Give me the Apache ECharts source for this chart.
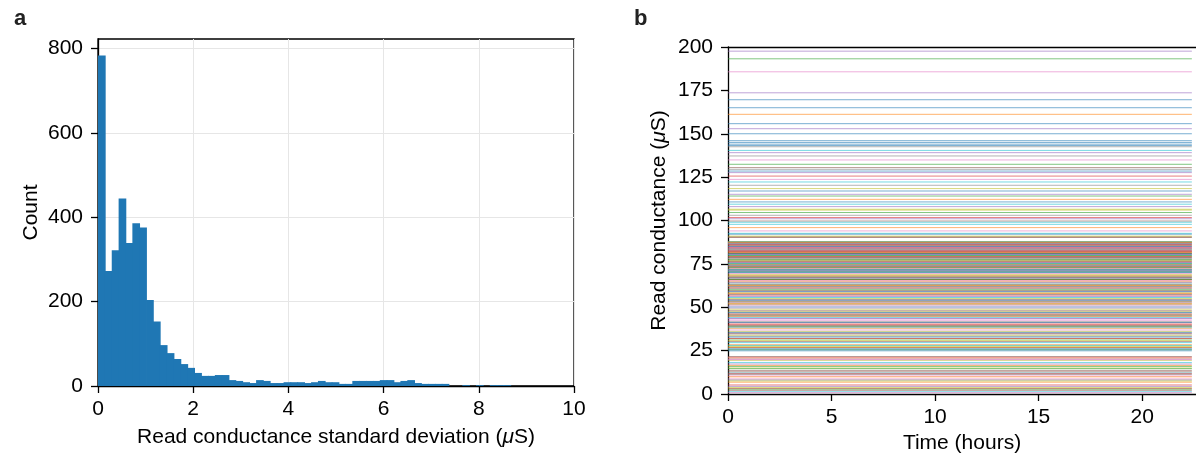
<!DOCTYPE html>
<html>
<head>
<meta charset="utf-8">
<script src="https://cdn.jsdelivr.net/npm/echarts@6/dist/echarts.min.js"></script>
<style>
html,body{margin:0;padding:0;background:#fff;}
#chart{width:1196px;height:459px;}
</style>
</head>
<body>
<div id="chart"></div>
<script>
// ---------- Panel a: histogram of read conductance std dev ----------
const binWidth = 0.1444; // µS per bin (60 bins)
const histCounts = [
  784, 273, 322, 445, 339, 386, 376, 204, 153, 97,
  78, 64, 52, 43, 31, 24, 24, 26, 26, 14,
  12, 9, 7, 14, 12, 7, 7, 9, 9, 9,
  7, 9, 12, 9, 9, 5, 5, 12, 12, 12,
  12, 14, 14, 9, 12, 14, 7, 5, 5, 5,
  5, 0, 0, 2, 0, 2, 0, 2, 2, 2
];
const histXTicks = [0, 2, 4, 6, 8, 10];
const histYTicks = [0, 200, 400, 600, 800];

// ---------- Panel b: read conductance traces over time ----------
const timeHours = [0, 22.4];
// one row per 10 devices (colour cycle order: blue, orange, green, red, purple, brown, pink, gray, olive, cyan)
const levels = [
  169.6, 161.2, 193.2, 125.6, 197.6, 130.5, 185.7, 142.5, 118.4, 140.4,
  165.0, 112.2, 132.4, 101.7, 173.6, 99.7, 134.9, 137.2, 106.5, 122.2,
  155.8, 95.9, 114.1, 84.4, 152.9, 90.2, 123.7, 129.5, 47.4, 109.4,
  150.0, 81.5, 104.6, 71.0, 139.1, 90.6, 94.0, 120.3, 48.9, 97.8,
  146.0, 79.2, 86.9, 40.9, 127.6, 76.4, 21.1, 103.0, 3.8, 63.3,
  145.0, 85.3, 45.5, 5.2, 115.1, 82.2, 58.9, 73.5, 55.1, 12.1,
  144.0, 78.0, 87.7, 74.8, 108.0, 66.3, 84.9, 80.6, 52.2, 99.0,
  143.2, 72.1, 83.6, 82.7, 17.3, 71.8, 77.9, 86.0, 62.4, 92.6,
  128.5, 44.8, 81.0, 76.0, 56.2, 30.2, 69.4, 60.7, 36.1, 86.5,
  117.0, 68.2, 70.3, 86.2, 75.8, 84.0, 43.3, 79.5, 91.0, 71.7,
  110.7, 73.9, 61.8, 53.5, 87.3, 12.8, 74.4, 33.3, 27.5, 80.1,
  92.1, 65.0, 25.5, 82.0, 64.4, 59.6, 8.7, 77.0, 83.1, 50.2,
  74.2, 87.4, 77.5, 67.1, 83.4, 39.5, 57.7, 46.6, 19.4, 29.6,
  35.5, 81.9, 31.7, 57.0, 72.6, 85.5, 10.4, 70.6, 106.0, 38.2,
  24.9, 58.0, 75.1, 79.0, 82.5, 62.9, 26.4, 51.4, 15.0, 78.4,
  66.9, 6.8, 53.0, 73.2, 34.6, 2.1, 86.6, 41.7, 68.8, 18.2,
  80.8, 37.9, 79.8, 61.2, 49.6, 81.2, 65.6, 25.8, 7.5, 87.8,
  59.0, 28.4, 14.6, 32.0, 71.3, 54.4, 42.5, 64.0, 76.8, 44.0,
  54.0, 51.9, 73.0, 46.0, 101.0, 21.6, 84.1, 11.3, 67.7, 1.3,
  41.2, 16.5, 60.1, 3.1, 62.1, 48.0, 36.9, 57.3, 74.9, 28.0,
  70.0, 9.9, 39.0, 26.8, 20.2, 78.7, 50.7, 87.0, 33.9, 55.6,
  85.0, 62.7, 15.9, 40.0, 43.6, 13.6, 0.8, 67.9, 30.8, 75.3,
  47.0, 20.8, 2.8, 65.9, 80.4, 35.0, 19.8, 8.1, 58.3, 26.0,
  32.8, 87.6, 66.0, 11.7, 4.4, 45.0, 52.6, 38.8, 27.0, 70.9
];
const timeXTicks = [0, 5, 10, 15, 20];
const condYTicks = [0, 25, 50, 75, 100, 125, 150, 175, 200];

const palette = ['#1f77b4','#ff7f0e','#2ca02c','#d62728','#9467bd','#8c564b','#e377c2','#7f7f7f','#bcbd22','#17becf'];
const FONT = '"Liberation Sans", Arial, Helvetica, sans-serif';
const FS = 21;

const chart = echarts.init(document.getElementById('chart'), null, {renderer: 'canvas'});

const histData = histCounts.map((c, i) => [i * binWidth, (i + 1) * binWidth, c]);

const axisCommon = {
  axisLine: {show: true, lineStyle: {color: '#000', width: 1.3}},
  axisTick: {show: true, length: 7, lineStyle: {color: '#000', width: 1.3}},
  axisLabel: {color: '#000', fontSize: FS, fontFamily: FONT, margin: 13},
  nameTextStyle: {color: '#000', fontSize: FS, fontFamily: FONT},
  nameLocation: 'middle'
};
const richName = {
  n: {color: '#000', fontSize: FS, fontFamily: FONT},
  i: {color: '#000', fontSize: FS, fontFamily: FONT, fontStyle: 'italic'}
};

const lineSeries = levels.map((v, i) => ({
  type: 'line',
  xAxisIndex: 1,
  yAxisIndex: 1,
  data: timeHours.map(t => [t, v]),
  showSymbol: false,
  symbol: 'none',
  silent: true,
  animation: false,
  lineStyle: {color: palette[i % 10], width: 0.8, opacity: 0.75},
  z: 2
}));

const option = {
  animation: false,
  backgroundColor: '#fff',
  textStyle: {fontFamily: FONT},
  title: [
    {text: 'a', left: 9, top: 3, textStyle: {fontSize: 22, fontWeight: 'bold', color: '#222', fontFamily: FONT}},
    {text: 'b', left: 629, top: 3, textStyle: {fontSize: 22, fontWeight: 'bold', color: '#222', fontFamily: FONT}}
  ],
  grid: [
    {left: 98, right: 622, top: 39, bottom: 73, show: true, borderColor: '#000', borderWidth: 1.3, backgroundColor: 'transparent'},
    {left: 728, right: 0, top: 47, bottom: 65, show: false}
  ],
  xAxis: [
    Object.assign({}, axisCommon, {
      type: 'value', gridIndex: 0, min: 0, max: 10, interval: 2,
      name: '{n|Read conductance standard deviation (}{i|μ}{n|S)}',
      nameGap: 41,
      nameTextStyle: {rich: richName},
      axisLabel: Object.assign({}, axisCommon.axisLabel, {customValues: histXTicks}),
      axisTick: Object.assign({}, axisCommon.axisTick, {customValues: histXTicks}),
      splitLine: {show: true, lineStyle: {color: '#e6e6e6', width: 1}}
    }),
    Object.assign({}, axisCommon, {
      type: 'value', gridIndex: 1, min: 0, max: 22.6, interval: 5,
      name: 'Time (hours)',
      nameGap: 37,
      axisLabel: Object.assign({}, axisCommon.axisLabel, {customValues: timeXTicks}),
      axisTick: Object.assign({}, axisCommon.axisTick, {customValues: timeXTicks}),
      splitLine: {show: false}
    }),
    {
      type: 'value', gridIndex: 1, position: 'top', min: 0, max: 22.6,
      axisLine: {show: true, onZero: false, lineStyle: {color: '#000', width: 1.3}},
      axisTick: {show: false}, axisLabel: {show: false}, splitLine: {show: false}
    }
  ],
  yAxis: [
    Object.assign({}, axisCommon, {
      type: 'value', gridIndex: 0, min: 0, max: 823, interval: 200,
      name: 'Count',
      nameGap: 56,
      axisLabel: Object.assign({}, axisCommon.axisLabel, {customValues: histYTicks, margin: 15}),
      axisTick: Object.assign({}, axisCommon.axisTick, {customValues: histYTicks}),
      splitLine: {show: true, lineStyle: {color: '#e6e6e6', width: 1}}
    }),
    Object.assign({}, axisCommon, {
      type: 'value', gridIndex: 1, min: 0, max: 200, interval: 25,
      name: '{n|Read conductance (}{i|μ}{n|S)}',
      nameGap: 58,
      nameTextStyle: {rich: richName},
      axisLabel: Object.assign({}, axisCommon.axisLabel, {customValues: condYTicks, margin: 15}),
      axisTick: Object.assign({}, axisCommon.axisTick, {customValues: condYTicks}),
      splitLine: {show: false}
    })
  ],
  series: [
    {
      type: 'custom',
      xAxisIndex: 0,
      yAxisIndex: 0,
      data: histData,
      silent: true,
      renderItem: function (params, api) {
        const p0 = api.coord([api.value(0), api.value(2)]);
        const p1 = api.coord([api.value(1), 0]);
        const h = p1[1] - p0[1];
        if (h <= 0) return null;
        return {
          type: 'rect',
          shape: {x: p0[0], y: p0[1], width: p1[0] - p0[0] + 0.8, height: h},
          style: {fill: '#1f77b4'}
        };
      },
      encode: {x: [0, 1], y: 2},
      z: 2
    }
  ].concat(lineSeries)
};

chart.setOption(option);
</script>
</body>
</html>
